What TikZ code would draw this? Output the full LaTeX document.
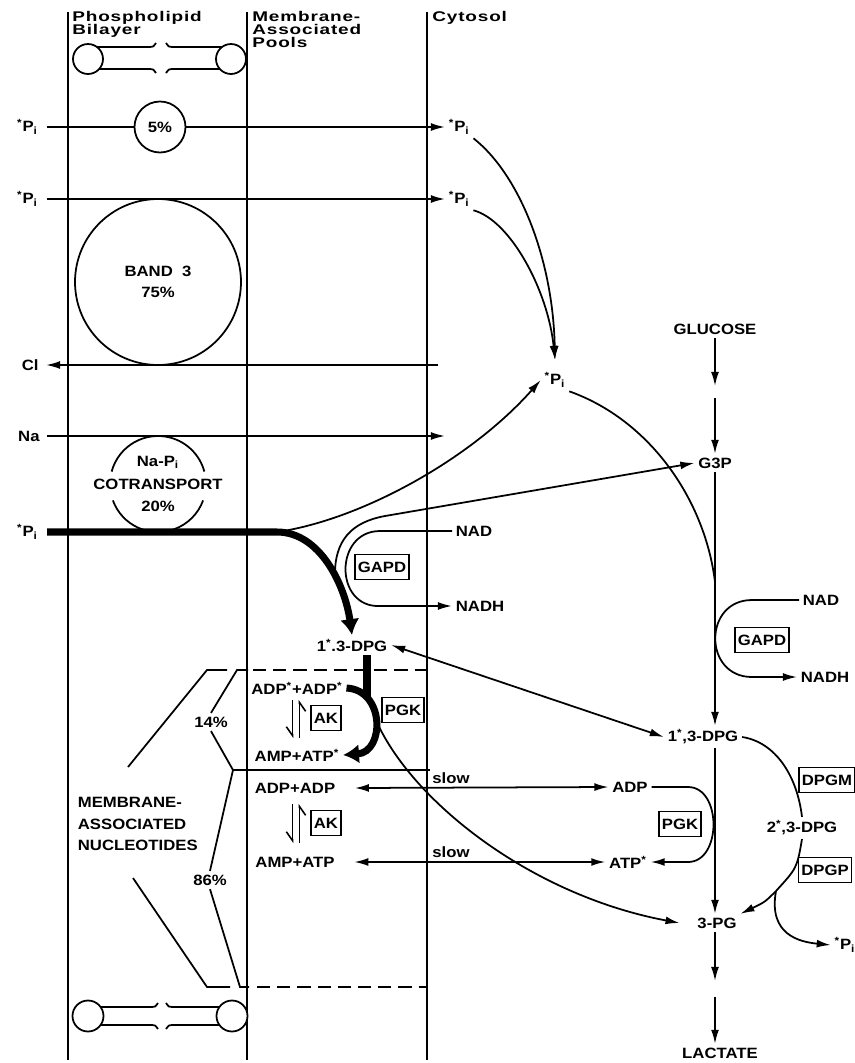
\documentclass[tikz,border=0pt]{standalone}
\usepackage{fontspec}
\setmainfont{Liberation Sans}[FakeStretch=1.12]
\newfontfamily\hdrfont{Liberation Sans}[FakeStretch=1.35, LetterSpace=6]
\usetikzlibrary{arrows.meta}
\newcommand{\Pistar}{\textsuperscript{*}P\textsubscript{i}}
\tikzset{
    lab/.style={font=\bfseries\fontsize{8.5}{10}\selectfont, inner sep=2pt},
    leftlab/.style={lab, anchor=east, inner xsep=5pt},
    hdr/.style={font=\hdrfont\bfseries\fontsize{8}{7.5}\selectfont, align=left, anchor=north west, inner sep=0pt},
    enz/.style={lab, draw, rectangle, line width=0.9pt, inner sep=1.5pt, minimum height=0.5cm},
    arr/.style={-{Latex[length=8pt,width=4.5pt]}, line width=1pt},
    dblarr/.style={{Latex[length=8pt,width=4.5pt]}-{Latex[length=8pt,width=4.5pt]}, line width=1pt},
    bigarr/.style={-{Latex[length=9pt,width=11pt]}, line width=4pt},
    thin/.style={line width=1pt},
    wall/.style={line width=1.1pt},
    harp/.style={-{Straight Barb[right,length=5pt,width=7pt]}, line width=0.9pt},
    lipid/.style={draw, fill=white, line width=1pt},
    brk/.style={line width=1pt, dash pattern=on 7.5pt off 4pt}
}

\begin{document}
\begin{tikzpicture}[x=0.02cm, y=-0.02cm]
    \useasboundingbox (0,0) rectangle (855,1063);

    % Compartment walls and headings
    \draw[wall] (68,12) -- (68,1060);
    \draw[wall] (247,12) -- (247,1060);
    \draw[wall] (427,12) -- (427,1060);
    \node[hdr] (hbil) at (72,11) {Phospholipid\\Bilayer};
    \node[hdr] (hpool) at (252,11) {Membrane-\\Associated\\Pools};
    \node[hdr] (hcyt) at (432,11) {Cytosol};

    % Phospholipid molecules, top and bottom
    \draw[thin] (88,47) -- (150,47) .. controls (153,47) .. (156,43);
    \draw[thin] (88,69) -- (150,69) .. controls (153,69) .. (156,73);
    \draw[thin] (166,43) .. controls (169,47) .. (172,47) -- (231,47);
    \draw[thin] (166,73) .. controls (169,69) .. (172,69) -- (231,69);
    \draw[lipid] (88,59) circle[radius=0.3cm];
    \draw[lipid] (231,59) circle[radius=0.3cm];
    \draw[thin] (88,1007) -- (152,1007) .. controls (155,1007) .. (158,1003);
    \draw[thin] (88,1025) -- (152,1025) .. controls (155,1025) .. (158,1029);
    \draw[thin] (166,1003) .. controls (169,1007) .. (172,1007) -- (232,1007);
    \draw[thin] (166,1029) .. controls (169,1025) .. (172,1025) -- (232,1025);
    \draw[lipid] (88,1016) circle[radius=0.31cm];
    \draw[lipid] (232,1016) circle[radius=0.31cm];

    % Phosphate and ion transport across the membrane
    \node[leftlab] (pl1) at (47,127) {\Pistar};
    \node[lab, anchor=west] (pr1) at (445,127) {\Pistar};
    \draw[arr] (pl1.east) -- (pr1.west);
    \node[lab, draw, circle, fill=white, line width=1pt, inner sep=0pt, minimum size=1.02cm] (pct5) at (160,127) {5\%};

    \node[leftlab] (pl2) at (47,199) {\Pistar};
    \node[lab, anchor=west] (pr2) at (445,199) {\Pistar};
    \draw[arr] (pl2.east) -- (pr2.west);
    \node[lab, draw, circle, line width=1pt, inner sep=0pt, minimum size=3.32cm, align=center] (band3) at (158,282) {BAND\ \ 3\\[2pt]75\%};

    \node[leftlab, inner xsep=4pt] (cl) at (46,365) {Cl};
    \coordinate (clin) at (438,365);
    \draw[arr] (clin) -- (cl.east);

    \node[leftlab, inner xsep=4pt] (na) at (47,436) {Na};
    \coordinate (naout) at (445,436);
    \draw[arr] (na.east) -- (naout);

    % Na-Pi cotransporter
    \draw[thin] ([shift={(165:0.96cm)}]158,484) arc[start angle=165, end angle=15, radius=0.96cm];
    \draw[thin] ([shift={(-160:0.96cm)}]158,484) arc[start angle=-160, end angle=-20, radius=0.96cm];
    \node[lab, align=center] (napi) at (158,484) {Na-P\textsubscript{i}\\[3pt]COTRANSPORT\\[3pt]20\%};

    % Main route of phosphate into 1,3-DPG
    \node[leftlab] (pl3) at (47,532) {\Pistar};
    \coordinate (fork) at (277,532);
    \node[lab] (dpgA) at (352,645) {1\textsuperscript{*}.3-DPG};
    \draw[bigarr] (pl3.east) -- (fork) .. controls (320,532) and (345,585) .. (dpgA.north);

    % Cytosolic phosphate pool
    \node[lab] (pc) at (555,380) {\Pistar};
    \draw[arr] (pr1.south east) .. controls (520,175) and (553,260) .. ([yshift=5pt]pc.north);
    \draw[arr] (pr2.south east) .. controls (510,220) and (548,290) .. ([yshift=5pt]pc.north);
    \draw[arr] (fork) .. controls (360,520) and (470,460) .. (pc.west);

    % Glycolysis
    \node[lab] (glc) at (715,329) {GLUCOSE};
    \coordinate (gl1) at (715,386);
    \coordinate (gl2) at (715,398);
    \node[lab] (g3p) at (715,463) {G3P};
    \draw[arr] (glc.south) -- (gl1);
    \draw[arr] (gl2) -- (g3p.north);
    \node[lab] (dpgB) at (703,737) {1\textsuperscript{*},3-DPG};
    \draw[arr] (g3p.south) -- (g3p.south |- dpgB.north);
    \coordinate (pjoin) at (715,582);
    \draw[thin] (pc.south east) .. controls (650,420) and (705,500) .. (pjoin);

    % Cytosolic GAPD
    \node[lab, anchor=west] (nadB) at (799,600) {NAD};
    \node[lab, anchor=west] (nadhB) at (797,677) {NADH};
    \node[enz] (gapdB) at (762,640) {GAPD};
    \draw[arr] (nadB.west) -- (752,600) .. controls (703,600) and (703,677) .. (752,677) -- (nadhB.west);

    % Membrane-associated GAPD
    \node[lab, anchor=west] (nadA) at (452,531) {NAD};
    \node[lab, anchor=west] (nadhA) at (452,606) {NADH};
    \node[enz] (gapdA) at (382,567) {GAPD};
    \coordinate (gjoin) at (335,577);
    \draw[arr] (gjoin) .. controls (334,540) and (352,522) .. (385,516) -- (g3p.west);
    \draw[arr] (nadA.west) -- (380,531) .. controls (334,531) and (334,608) .. (380,606) -- (nadhA.west);
    \draw[dblarr] (dpgA.east) -- (dpgB.west);

    % Pool boundaries and nucleotide fractions
    \draw[brk] (253,670) -- (427,670);
    \draw[thin] (233,770) -- (430,770);
    \draw[brk] (257,987) -- (427,987);
    \node[lab] (p14) at (211,722) {14\%};
    \node[lab] (p86) at (210,880) {86\%};
    \node[lab, anchor=west, align=left, font=\bfseries\fontsize{8.5}{12}\selectfont] (mnuc) at (74,824) {MEMBRANE-\\ASSOCIATED\\NUCLEOTIDES};
    \draw[thin] (227,670) -- (207,670) -- (128,767);
    \draw[thin] (133,878) -- (207,987) -- (230,987);
    \draw[thin] (248,670) -- (237,670) -- (p14.north);
    \draw[thin] (p14.south) -- (233,770);
    \draw[thin] (233,770) -- (p86.north);
    \draw[thin] (p86.south) -- (240,987) -- (249,987);

    % Labelled nucleotides, PGK and AK
    \node[lab] (adpS) at (297,688) {ADP\textsuperscript{*}+ADP\textsuperscript{*}};
    \node[lab] (ampS) at (297,755) {AMP+ATP\textsuperscript{*}};
    \node[enz] (akA) at (326,718) {AK};
    \node[enz] (pgkA) at (403,710) {PGK};
    \coordinate (akAt) at (296,700);
    \coordinate (akAb) at (296,738);
    \draw[harp] ([xshift=-2pt]akAt) -- ([xshift=-2pt]akAb);
    \draw[harp] ([xshift=2pt]akAb) -- ([xshift=2pt]akAt);
    \draw[bigarr] (adpS.east) .. controls (385,690) and (385,752) .. (ampS.east);
    \coordinate (pgkj) at (367,697);
    \draw[line width=4pt] (dpgA.south -| pgkj) -- (pgkj);
    \coordinate (pgkb) at (375,718);
    \node[lab] (pg3) at (717,923) {3-PG};
    \draw[arr] (pgkb) .. controls (410,800) and (530,895) .. ([xshift=-8pt]pg3.west);

    % Unlabelled nucleotides and slow exchange
    \node[lab] (adp2) at (295,788) {ADP+ADP};
    \node[lab] (amp2) at (295,862) {AMP+ATP};
    \node[enz] (akB) at (326,823) {AK};
    \coordinate (akBt) at (296,804);
    \coordinate (akBb) at (296,843);
    \draw[harp] ([xshift=-2pt]akBt) -- ([xshift=-2pt]akBb);
    \draw[harp] ([xshift=2pt]akBb) -- ([xshift=2pt]akBt);
    \node[lab] (adpR) at (630,787) {ADP};
    \node[lab] (atpR) at (628,862) {ATP\textsuperscript{*}};
    \node[lab] (slow1) at (451,778) {slow};
    \node[lab] (slow2) at (451,852) {slow};
    \draw[dblarr] ([xshift=9pt]adp2.east) -- (adpR.west);
    \draw[dblarr] ([xshift=9pt]amp2.east) -- (atpR.west);

    % Cytosolic PGK
    \node[enz] (pgkB) at (680,824) {PGK};
    \draw[arr] (adpR.east) -- (688,787) .. controls (722,787) and (722,862) .. (688,862) -- (atpR.east);
    \draw[arr] (g3p.south |- dpgB.south) -- (g3p.south |- pg3.north);

    % 2,3-DPG shunt
    \node[lab] (dpg2) at (802,828) {2\textsuperscript{*},3-DPG};
    \node[enz] (dpgm) at (827,780) {DPGM};
    \node[enz] (dpgp) at (825,870) {DPGP};
    \draw[thin] (dpgB.east) .. controls (775,742) and (797,775) .. (dpg2.north);
    \coordinate (br2) at (776,891);
    \draw[thin] (dpg2.south) .. controls (797,868) .. (br2);
    \draw[arr] (br2) .. controls (765,902) .. (pg3.north east);
    \node[lab] (piD) at (845,945) {\Pistar};
    \draw[arr] (br2) .. controls (768,935) and (800,942) .. (piD.west);

    % Down to lactate
    \coordinate (pg1) at (715,981);
    \coordinate (pg2) at (715,997);
    \node[lab] (lac) at (720,1053) {LACTATE};
    \draw[arr] (pg3.south -| g3p) -- (pg1);
    \draw[arr] (pg2) -- (lac.north -| g3p);
\end{tikzpicture}
\end{document}
